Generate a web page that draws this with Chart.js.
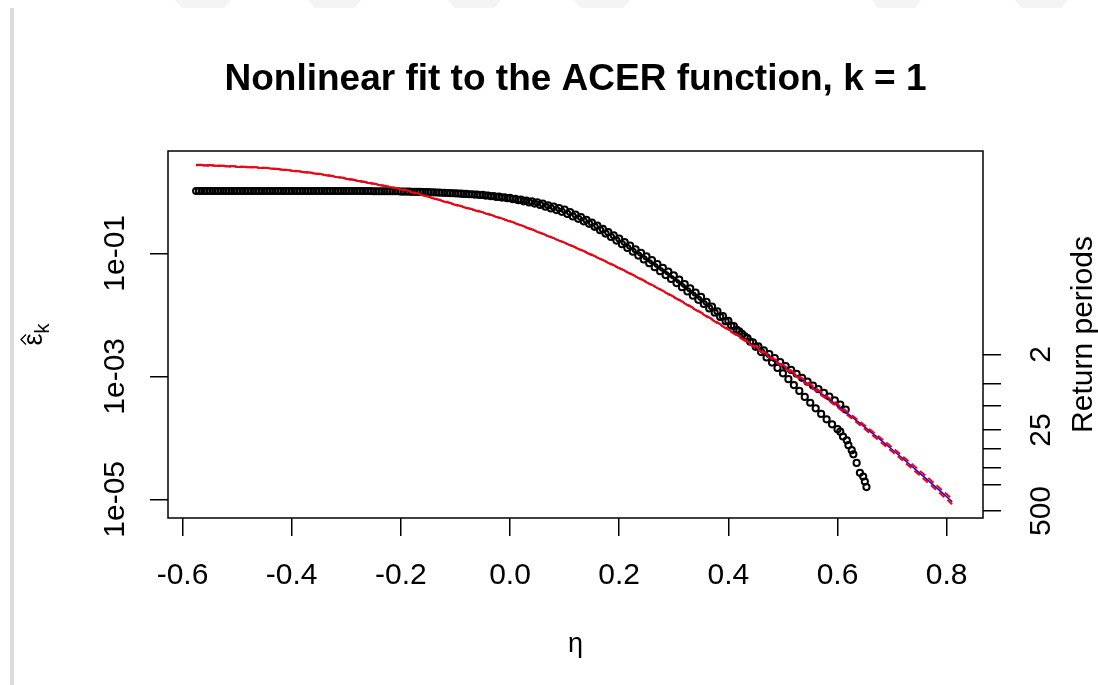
<!DOCTYPE html>
<html lang="en">
<head>
<meta charset="utf-8">
<title>Nonlinear fit to the ACER function, k = 1</title>
<script src="https://cdn.jsdelivr.net/npm/chart.js@4.4.1/dist/chart.umd.min.js"></script>
<style>
  html, body { margin: 0; padding: 0; background: #fff; }
  #wrap { position: relative; width: 1098px; height: 685px; overflow: hidden; }
  #leftbar { position: absolute; left: 10px; top: 8px; width: 4px; height: 677px; background: #dcdcdc; }
  .tab { position: absolute; top: 0; height: 8px; background: #f4f4f4;
         clip-path: polygon(12% 100%, 0 0, 100% 0, 88% 100%); }
  canvas { position: absolute; left: 0; top: 0; }
</style>
</head>
<body>
<div id="wrap">
  <div id="leftbar"></div>
  <div class="tab" style="left:175px;width:56px"></div>
  <div class="tab" style="left:308px;width:53px"></div>
  <div class="tab" style="left:448px;width:53px"></div>
  <div class="tab" style="left:574px;width:56px"></div>
  <div class="tab" style="left:872px;width:49px"></div>
  <div class="tab" style="left:1015px;width:53px"></div>
  <canvas id="acer" width="1098" height="685"></canvas>
</div>

<script>
// empirical ACER estimates, first run (circles)
var etaA = [
  -0.57, -0.56, -0.55, -0.54, -0.53, -0.52, -0.51, -0.50, -0.49, -0.48,
  -0.47, -0.46, -0.45, -0.44, -0.43, -0.42, -0.41, -0.40, -0.39, -0.38,
  -0.37, -0.36, -0.35, -0.34, -0.33, -0.32, -0.31, -0.30, -0.29, -0.28,
  -0.27, -0.26, -0.25, -0.24, -0.23, -0.22, -0.21, -0.20, -0.19, -0.18,
  -0.17, -0.16, -0.15, -0.14, -0.13, -0.12, -0.11, -0.10, -0.09, -0.08,
  -0.07, -0.06, -0.05, -0.04, -0.03, -0.02, -0.01, 0.00, 0.01, 0.02,
  0.03, 0.04, 0.05, 0.06, 0.07, 0.08, 0.09, 0.10, 0.11, 0.12,
  0.13, 0.14, 0.15, 0.16, 0.17, 0.18, 0.19, 0.20, 0.21, 0.22,
  0.23, 0.24, 0.25, 0.26, 0.27, 0.28, 0.29, 0.30, 0.31, 0.32,
  0.33, 0.34, 0.35, 0.36, 0.37, 0.38, 0.39, 0.40, 0.41, 0.42,
  0.43, 0.44, 0.45, 0.46, 0.47, 0.48, 0.49, 0.50, 0.51, 0.52,
  0.53, 0.54, 0.55, 0.56, 0.57, 0.58, 0.59, 0.60,
  0.605, 0.610, 0.617, 0.620, 0.626, 0.629, 0.635, 0.641, 0.647, 0.650, 0.653
];
var acerA = [
  1.03, 1.03, 1.03, 1.03, 1.03, 1.03, 1.03, 1.03, 1.03, 1.03,
  1.03, 1.03, 1.03, 1.03, 1.03, 1.03, 1.03, 1.03, 1.03, 1.03,
  1.03, 1.03, 1.03, 1.03, 1.03, 1.03, 1.03, 1.03, 1.03, 1.03,
  1.03, 1.03, 1.02, 1.02, 1.02, 1.02, 1.02, 1.01, 1.007, 1.0,
  0.998, 0.993, 0.989, 0.98, 0.97, 0.962, 0.953, 0.944, 0.933, 0.923,
  0.912, 0.902, 0.891, 0.871, 0.851, 0.832, 0.813, 0.794, 0.769, 0.745,
  0.721, 0.698, 0.676, 0.64, 0.605, 0.573, 0.542, 0.513, 0.468, 0.427,
  0.389, 0.351, 0.316, 0.281, 0.249, 0.221, 0.196, 0.174, 0.152, 0.133,
  0.116, 0.102, 0.0891, 0.0773, 0.067, 0.0581, 0.0504, 0.0437, 0.0372, 0.0316,
  0.0269, 0.0229, 0.0195, 0.0163, 0.0136, 0.0114, 0.0095, 0.00794, 0.00655, 0.0054,
  0.00445, 0.00366, 0.00302, 0.00248, 0.00203, 0.00167, 0.00137, 0.00112, 9.0e-4, 7.21e-4,
  5.78e-4, 4.63e-4, 3.72e-4, 3.02e-4, 2.45e-4, 2.0e-4, 1.66e-4, 1.38e-4,
  1.26e-4, 1.05e-4, 9.1e-5, 7.6e-5, 6.3e-5, 5.4e-5, 3.9e-5, 2.7e-5, 2.34e-5, 1.95e-5, 1.58e-5
];

// empirical ACER estimates, second run (circles)
var etaB = [
  -0.575, -0.565, -0.555, -0.545, -0.535, -0.525, -0.515, -0.505, -0.495, -0.485,
  -0.475, -0.465, -0.455, -0.445, -0.435, -0.425, -0.415, -0.405, -0.395, -0.385,
  -0.375, -0.365, -0.355, -0.345, -0.335, -0.325, -0.315, -0.305, -0.295, -0.285,
  -0.275, -0.265, -0.255, -0.245, -0.235, -0.225, -0.215, -0.205, -0.195, -0.185,
  -0.175, -0.165, -0.155, -0.145, -0.135, -0.125, -0.115, -0.105, -0.095, -0.085,
  -0.075, -0.065, -0.055, -0.045, -0.035, -0.025, -0.015, -0.005, 0.005, 0.015,
  0.025, 0.035, 0.045, 0.055, 0.065, 0.075, 0.085, 0.095, 0.105, 0.115,
  0.125, 0.135, 0.145, 0.155, 0.165, 0.175, 0.185, 0.195, 0.205, 0.215,
  0.225, 0.235, 0.245, 0.255, 0.265, 0.275, 0.285, 0.295, 0.305, 0.315,
  0.325, 0.335, 0.345, 0.355, 0.365, 0.375, 0.385, 0.395, 0.405, 0.415,
  0.425, 0.435, 0.445, 0.455, 0.465, 0.475, 0.485, 0.495, 0.505, 0.515,
  0.525, 0.535, 0.545, 0.555, 0.565, 0.575, 0.585, 0.595, 0.605, 0.615
];
var acerB = [
  1.03, 1.03, 1.03, 1.03, 1.03, 1.03, 1.03, 1.03, 1.03, 1.03,
  1.03, 1.03, 1.03, 1.03, 1.03, 1.03, 1.03, 1.03, 1.03, 1.03,
  1.03, 1.03, 1.03, 1.03, 1.03, 1.03, 1.03, 1.03, 1.03, 1.03,
  1.03, 1.03, 1.03, 1.02, 1.02, 1.02, 1.02, 1.02, 1.009, 1.005,
  1.0, 0.995, 0.991, 0.984, 0.975, 0.966, 0.957, 0.948, 0.938, 0.925,
  0.912, 0.9, 0.887, 0.869, 0.847, 0.826, 0.805, 0.785, 0.76, 0.73,
  0.7, 0.672, 0.644, 0.611, 0.573, 0.537, 0.504, 0.472, 0.437, 0.398,
  0.363, 0.331, 0.302, 0.27, 0.238, 0.209, 0.184, 0.161, 0.141, 0.122,
  0.106, 0.0918, 0.0796, 0.0689, 0.0594, 0.0513, 0.0443, 0.0382, 0.0328, 0.0281,
  0.024, 0.0205, 0.0175, 0.015, 0.0127, 0.0108, 0.00923, 0.00785, 0.0067, 0.00573,
  0.0049, 0.00419, 0.00358, 0.00308, 0.00265, 0.00229, 0.00198, 0.00171, 0.00147, 0.00127,
  0.0011, 9.46e-4, 8.17e-4, 7.08e-4, 6.17e-4, 5.37e-4, 4.68e-4, 4.07e-4, 3.47e-4, 2.88e-4
];

// fitted ACER curve (blue) and its band (red dashed)
var fitEta = [-0.575, -0.55, -0.5, -0.45, -0.4, -0.35, -0.3, -0.25, -0.2, -0.15,
  -0.1, -0.05, 0, 0.05, 0.1, 0.15, 0.2, 0.25, 0.3, 0.35,
  0.4, 0.45, 0.5, 0.55, 0.6, 0.65, 0.7, 0.75, 0.8, 0.81];
var fitAcer = [2.72, 2.69, 2.57, 2.45, 2.21, 1.95, 1.64, 1.35, 1.10, 0.832,
  0.617, 0.462, 0.331, 0.225, 0.148, 0.094, 0.0575, 0.034, 0.0195, 0.01076,
  0.00575, 0.00296, 0.00148, 7.11e-4, 3.31e-4, 1.49e-4, 6.46e-5, 2.70e-5, 1.10e-5, 9.1e-6];
var bandUpper = [2.75, 2.72, 2.6, 2.47, 2.23, 1.97, 1.66, 1.36, 1.11, 0.84,
  0.623, 0.467, 0.334, 0.227, 0.149, 0.0949, 0.0581, 0.0343, 0.0197, 0.01092,
  0.00587, 0.00305, 0.00154, 7.47e-4, 3.51e-4, 1.59e-4, 6.98e-5, 2.94e-5, 1.21e-5, 1.0e-5];
var bandLower = [2.69, 2.66, 2.54, 2.43, 2.19, 1.93, 1.62, 1.34, 1.09, 0.824,
  0.611, 0.457, 0.328, 0.223, 0.147, 0.0931, 0.0569, 0.0337, 0.0193, 0.0106,
  0.00564, 0.00287, 0.00142, 6.77e-4, 3.12e-4, 1.39e-4, 5.98e-5, 2.48e-5, 1.0e-5, 8.3e-6];

// axes
var xRange = [-0.6266, 0.8665];
var yRange = [4.97e-6, 4.607];
var xTicks = [-0.6, -0.4, -0.2, 0, 0.2, 0.4, 0.6, 0.8];
var xTickLabels = ['-0.6', '-0.4', '-0.2', '0.0', '0.2', '0.4', '0.6', '0.8'];
var yTicks = [1e-1, 1e-3, 1e-5];
var yTickLabels = ['1e-01', '1e-03', '1e-05'];
// return period axis (right): tick positions in epsilon units
var returnTicks = [2.28e-3, 7.69e-4, 3.29e-4, 1.34e-4, 6.75e-5, 3.31e-5, 1.71e-5, 6.46e-6];
var returnLabels = ['2', '', '', '25', '', '', '', '500'];

var FONT = "'Liberation Sans', Arial, sans-serif";

function pairs(xs, ys) {
    return xs.map(function (x, i) { return { x: x, y: ys[i] }; });
}

function vText(ctx, s, x, y) {
    ctx.save();
    ctx.translate(x, y);
    ctx.rotate(-Math.PI / 2);
    ctx.fillText(s, 0, 0);
    ctx.restore();
}

// R style box, labels and titles
var rText = {
    id: 'rText',
    afterDraw: function (chart) {
        var ctx = chart.ctx, a = chart.chartArea, sc = chart.scales;
        var cy = (a.top + a.bottom) / 2;
        ctx.save();
        ctx.strokeStyle = '#000';
        ctx.lineWidth = 1.5;
        ctx.strokeRect(a.left, a.top, a.right - a.left, a.bottom - a.top);

        ctx.fillStyle = '#000';
        ctx.textAlign = 'center';
        ctx.textBaseline = 'alphabetic';
        ctx.font = 'bold 37px ' + FONT;
        ctx.fillText('Nonlinear fit to the ACER function, k = 1', (a.left + a.right) / 2, 90);

        ctx.font = '30px ' + FONT;
        sc.x.ticks.forEach(function (t, i) {
            ctx.fillText(xTickLabels[i], sc.x.getPixelForValue(t.value), 584);
        });
        sc.y.ticks.forEach(function (t, i) {
            vText(ctx, yTickLabels[i], 124, sc.y.getPixelForValue(t.value));
        });
        sc.yr.ticks.forEach(function (t, i) {
            if (returnLabels[i]) vText(ctx, returnLabels[i], 1050, sc.yr.getPixelForValue(t.value));
        });
        vText(ctx, 'Return periods', 1092, cy);

        // x label: eta
        ctx.font = '27px ' + FONT;
        ctx.fillText('\u03b7', (a.left + a.right) / 2, 652);

        // y label: epsilon hat, subscript k
        ctx.save();
        ctx.translate(42, cy);
        ctx.rotate(-Math.PI / 2);
        ctx.textAlign = 'left';
        ctx.font = '27px ' + FONT;
        var we = ctx.measureText('\u03b5').width;
        ctx.font = '20px ' + FONT;
        var wk = ctx.measureText('k').width;
        var x0 = -(we + wk) / 2;
        ctx.font = '27px ' + FONT;
        ctx.fillText('\u03b5', x0, 0);
        ctx.font = '20px ' + FONT;
        ctx.fillText('k', x0 + we, 7);
        ctx.beginPath();
        ctx.lineWidth = 1.3;
        ctx.moveTo(x0 + 1, -16);
        ctx.lineTo(x0 + we / 2, -21);
        ctx.lineTo(x0 + we - 1, -16);
        ctx.stroke();
        ctx.restore();

        ctx.restore();
    }
};

var tickGrid = { display: true, drawOnChartArea: false, drawTicks: true, tickLength: 18, color: '#000', lineWidth: 1.5 };

new Chart(document.getElementById('acer'), {
    type: 'scatter',
    data: {
        datasets: [
            { label: 'upper band', data: pairs(fitEta, bandUpper), showLine: true, pointRadius: 0,
              borderColor: '#ff0000', borderWidth: 2, borderDash: [7, 4], cubicInterpolationMode: 'monotone', order: 0 },
            { label: 'lower band', data: pairs(fitEta, bandLower), showLine: true, pointRadius: 0,
              borderColor: '#ff0000', borderWidth: 2, borderDash: [7, 4], borderDashOffset: 5, cubicInterpolationMode: 'monotone', order: 1 },
            { label: 'fit', data: pairs(fitEta, fitAcer), showLine: true, pointRadius: 0,
              borderColor: '#0000ff', borderWidth: 1.6, cubicInterpolationMode: 'monotone', order: 2 },
            { label: 'ACER A', data: pairs(etaA, acerA), pointRadius: 3.1, pointBorderWidth: 2,
              pointBorderColor: '#000', pointBackgroundColor: 'rgba(0,0,0,0)', order: 3 },
            { label: 'ACER B', data: pairs(etaB, acerB), pointRadius: 3.1, pointBorderWidth: 2,
              pointBorderColor: '#000', pointBackgroundColor: 'rgba(0,0,0,0)', order: 4 }
        ]
    },
    options: {
        responsive: false,
        animation: false,
        devicePixelRatio: 1,
        layout: { padding: { top: 151, left: 0, right: 0, bottom: 0 } },
        plugins: { legend: { display: false }, tooltip: { enabled: false }, title: { display: false } },
        scales: {
            x: {
                type: 'linear', min: xRange[0], max: xRange[1], bounds: 'data',
                afterBuildTicks: function (s) { s.ticks = xTicks.map(function (v) { return { value: v }; }); },
                afterFit: function (s) { s.height = 167; },
                grid: tickGrid, border: { display: false }, ticks: { display: false }
            },
            y: {
                type: 'logarithmic', position: 'left', min: yRange[0], max: yRange[1], bounds: 'data',
                afterBuildTicks: function (s) { s.ticks = yTicks.map(function (v) { return { value: v }; }); },
                afterFit: function (s) { s.width = 168; },
                grid: tickGrid, border: { display: false }, ticks: { display: false }
            },
            yr: {
                type: 'logarithmic', position: 'right', min: yRange[0], max: yRange[1], bounds: 'data',
                afterBuildTicks: function (s) { s.ticks = returnTicks.map(function (v) { return { value: v }; }); },
                afterFit: function (s) { s.width = 115; },
                grid: tickGrid, border: { display: false }, ticks: { display: false }
            }
        }
    },
    plugins: [rText]
});
</script>
</body>
</html>
